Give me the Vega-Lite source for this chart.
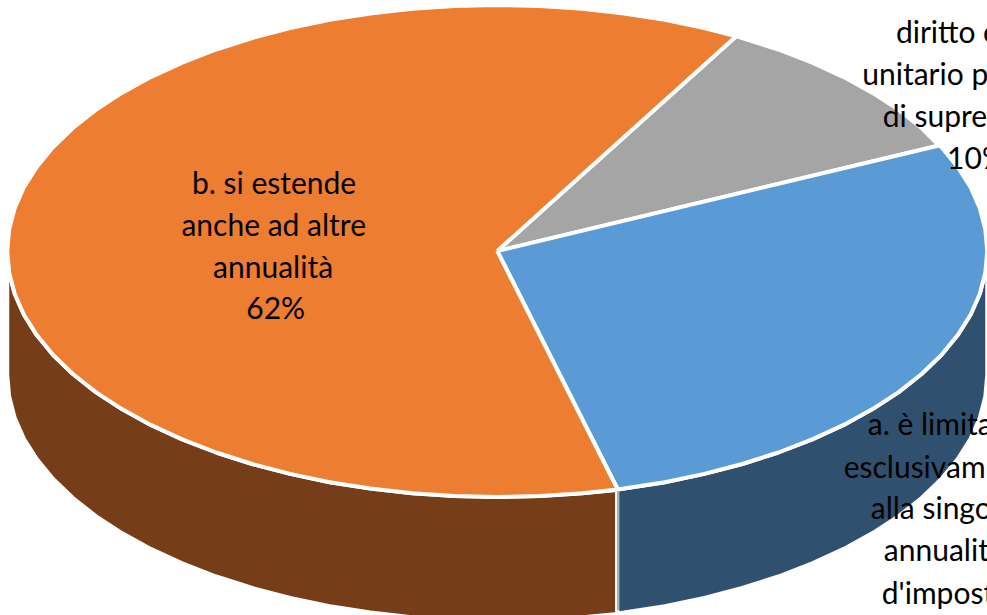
{"$schema":"https://vega.github.io/schema/vega-lite/v6.json","width":987,"height":615,"padding":0,"autosize":{"type":"none"},"background":"white","config":{"view":{"stroke":null}},
"datasets":{"shapes":[
{"part":"1 side b","i":0,"x":616.5,"y":489},{"part":"1 side b","i":1,"x":581.7,"y":492.3},{"part":"1 side b","i":2,"x":539.6,"y":495.1},{"part":"1 side b","i":3,"x":497,"y":496},{"part":"1 side b","i":4,"x":454.4,"y":495.1},{"part":"1 side b","i":5,"x":412.3,"y":492.3},{"part":"1 side b","i":6,"x":370.7,"y":487.6},{"part":"1 side b","i":7,"x":330.1,"y":481.2},{"part":"1 side b","i":8,"x":290.8,"y":472.9},{"part":"1 side b","i":9,"x":253,"y":463},{"part":"1 side b","i":10,"x":217.1,"y":451.5},{"part":"1 side b","i":11,"x":183.3,"y":438.4},{"part":"1 side b","i":12,"x":151.9,"y":423.9},{"part":"1 side b","i":13,"x":123.2,"y":408.1},{"part":"1 side b","i":14,"x":97.2,"y":391.1},{"part":"1 side b","i":15,"x":74.4,"y":373},{"part":"1 side b","i":16,"x":54.7,"y":354},{"part":"1 side b","i":17,"x":38.4,"y":334.1},{"part":"1 side b","i":18,"x":25.6,"y":313.7},{"part":"1 side b","i":19,"x":16.4,"y":292.7},{"part":"1 side b","i":20,"x":10.9,"y":271.5},{"part":"1 side b","i":21,"x":9,"y":250},{"part":"1 side b","i":22,"x":9,"y":374},{"part":"1 side b","i":23,"x":10.9,"y":395.5},{"part":"1 side b","i":24,"x":16.4,"y":416.7},{"part":"1 side b","i":25,"x":25.6,"y":437.7},{"part":"1 side b","i":26,"x":38.4,"y":458.1},{"part":"1 side b","i":27,"x":54.7,"y":478},{"part":"1 side b","i":28,"x":74.4,"y":497},{"part":"1 side b","i":29,"x":97.2,"y":515.1},{"part":"1 side b","i":30,"x":123.2,"y":532.1},{"part":"1 side b","i":31,"x":151.9,"y":547.9},{"part":"1 side b","i":32,"x":183.3,"y":562.4},{"part":"1 side b","i":33,"x":217.1,"y":575.5},{"part":"1 side b","i":34,"x":253,"y":587},{"part":"1 side b","i":35,"x":290.8,"y":596.9},{"part":"1 side b","i":36,"x":330.1,"y":605.2},{"part":"1 side b","i":37,"x":370.7,"y":611.6},{"part":"1 side b","i":38,"x":412.3,"y":616.3},{"part":"1 side b","i":39,"x":454.4,"y":619.1},{"part":"1 side b","i":40,"x":497,"y":620},{"part":"1 side b","i":41,"x":539.6,"y":619.1},{"part":"1 side b","i":42,"x":581.7,"y":616.3},{"part":"1 side b","i":43,"x":616.5,"y":613},{"part":"1 side b","i":44,"x":616.5,"y":489},
{"part":"2 side a","i":0,"x":616.5,"y":488.5},{"part":"2 side a","i":1,"x":623.3,"y":487.6},{"part":"2 side a","i":2,"x":663.9,"y":481.2},{"part":"2 side a","i":3,"x":703.2,"y":472.9},{"part":"2 side a","i":4,"x":741,"y":463},{"part":"2 side a","i":5,"x":776.9,"y":451.5},{"part":"2 side a","i":6,"x":810.7,"y":438.4},{"part":"2 side a","i":7,"x":842.1,"y":423.9},{"part":"2 side a","i":8,"x":870.8,"y":408.1},{"part":"2 side a","i":9,"x":896.8,"y":391.1},{"part":"2 side a","i":10,"x":919.6,"y":373},{"part":"2 side a","i":11,"x":939.3,"y":354},{"part":"2 side a","i":12,"x":955.6,"y":334.1},{"part":"2 side a","i":13,"x":968.4,"y":313.7},{"part":"2 side a","i":14,"x":977.6,"y":292.7},{"part":"2 side a","i":15,"x":983.1,"y":271.5},{"part":"2 side a","i":16,"x":985,"y":250},{"part":"2 side a","i":17,"x":985,"y":374},{"part":"2 side a","i":18,"x":983.1,"y":395.5},{"part":"2 side a","i":19,"x":977.6,"y":416.7},{"part":"2 side a","i":20,"x":968.4,"y":437.7},{"part":"2 side a","i":21,"x":955.6,"y":458.1},{"part":"2 side a","i":22,"x":939.3,"y":478},{"part":"2 side a","i":23,"x":919.6,"y":497},{"part":"2 side a","i":24,"x":896.8,"y":515.1},{"part":"2 side a","i":25,"x":870.8,"y":532.1},{"part":"2 side a","i":26,"x":842.1,"y":547.9},{"part":"2 side a","i":27,"x":810.7,"y":562.4},{"part":"2 side a","i":28,"x":776.9,"y":575.5},{"part":"2 side a","i":29,"x":741,"y":587},{"part":"2 side a","i":30,"x":703.2,"y":596.9},{"part":"2 side a","i":31,"x":663.9,"y":605.2},{"part":"2 side a","i":32,"x":623.3,"y":611.6},{"part":"2 side a","i":33,"x":616.5,"y":612.5},{"part":"2 side a","i":34,"x":616.5,"y":488.5},
{"part":"3 top c","i":0,"x":497,"y":250},{"part":"3 top c","i":1,"x":937,"y":144.5},{"part":"3 top c","i":2,"x":919.6,"y":127},{"part":"3 top c","i":3,"x":896.8,"y":108.9},{"part":"3 top c","i":4,"x":870.8,"y":91.9},{"part":"3 top c","i":5,"x":842.1,"y":76.1},{"part":"3 top c","i":6,"x":810.7,"y":61.6},{"part":"3 top c","i":7,"x":776.9,"y":48.5},{"part":"3 top c","i":8,"x":741,"y":37},{"part":"3 top c","i":9,"x":735,"y":35.2},{"part":"3 top c","i":10,"x":497,"y":250},
{"part":"4 top a","i":0,"x":497,"y":250},{"part":"4 top a","i":1,"x":937,"y":144.5},{"part":"4 top a","i":2,"x":939.3,"y":146},{"part":"4 top a","i":3,"x":955.6,"y":165.9},{"part":"4 top a","i":4,"x":968.4,"y":186.3},{"part":"4 top a","i":5,"x":977.6,"y":207.3},{"part":"4 top a","i":6,"x":983.1,"y":228.5},{"part":"4 top a","i":7,"x":985,"y":250},{"part":"4 top a","i":8,"x":983.1,"y":271.5},{"part":"4 top a","i":9,"x":977.6,"y":292.7},{"part":"4 top a","i":10,"x":968.4,"y":313.7},{"part":"4 top a","i":11,"x":955.6,"y":334.1},{"part":"4 top a","i":12,"x":939.3,"y":354},{"part":"4 top a","i":13,"x":919.6,"y":373},{"part":"4 top a","i":14,"x":896.8,"y":391.1},{"part":"4 top a","i":15,"x":870.8,"y":408.1},{"part":"4 top a","i":16,"x":842.1,"y":423.9},{"part":"4 top a","i":17,"x":810.7,"y":438.4},{"part":"4 top a","i":18,"x":776.9,"y":451.5},{"part":"4 top a","i":19,"x":741,"y":463},{"part":"4 top a","i":20,"x":703.2,"y":472.9},{"part":"4 top a","i":21,"x":663.9,"y":481.2},{"part":"4 top a","i":22,"x":623.3,"y":487.6},{"part":"4 top a","i":23,"x":617,"y":488.5},{"part":"4 top a","i":24,"x":497,"y":250},
{"part":"5 top b","i":0,"x":497,"y":250},{"part":"5 top b","i":1,"x":617,"y":488.5},{"part":"5 top b","i":2,"x":581.7,"y":492.3},{"part":"5 top b","i":3,"x":539.6,"y":495.1},{"part":"5 top b","i":4,"x":497,"y":496},{"part":"5 top b","i":5,"x":454.4,"y":495.1},{"part":"5 top b","i":6,"x":412.3,"y":492.3},{"part":"5 top b","i":7,"x":370.7,"y":487.6},{"part":"5 top b","i":8,"x":330.1,"y":481.2},{"part":"5 top b","i":9,"x":290.8,"y":472.9},{"part":"5 top b","i":10,"x":253,"y":463},{"part":"5 top b","i":11,"x":217.1,"y":451.5},{"part":"5 top b","i":12,"x":183.3,"y":438.4},{"part":"5 top b","i":13,"x":151.9,"y":423.9},{"part":"5 top b","i":14,"x":123.2,"y":408.1},{"part":"5 top b","i":15,"x":97.2,"y":391.1},{"part":"5 top b","i":16,"x":74.4,"y":373},{"part":"5 top b","i":17,"x":54.7,"y":354},{"part":"5 top b","i":18,"x":38.4,"y":334.1},{"part":"5 top b","i":19,"x":25.6,"y":313.7},{"part":"5 top b","i":20,"x":16.4,"y":292.7},{"part":"5 top b","i":21,"x":10.9,"y":271.5},{"part":"5 top b","i":22,"x":9,"y":250},{"part":"5 top b","i":23,"x":10.9,"y":228.5},{"part":"5 top b","i":24,"x":16.4,"y":207.3},{"part":"5 top b","i":25,"x":25.6,"y":186.3},{"part":"5 top b","i":26,"x":38.4,"y":165.9},{"part":"5 top b","i":27,"x":54.7,"y":146},{"part":"5 top b","i":28,"x":74.4,"y":127},{"part":"5 top b","i":29,"x":97.2,"y":108.9},{"part":"5 top b","i":30,"x":123.2,"y":91.9},{"part":"5 top b","i":31,"x":151.9,"y":76.1},{"part":"5 top b","i":32,"x":183.3,"y":61.6},{"part":"5 top b","i":33,"x":217.1,"y":48.5},{"part":"5 top b","i":34,"x":253,"y":37},{"part":"5 top b","i":35,"x":290.8,"y":27.1},{"part":"5 top b","i":36,"x":330.1,"y":18.8},{"part":"5 top b","i":37,"x":370.7,"y":12.4},{"part":"5 top b","i":38,"x":412.3,"y":7.7},{"part":"5 top b","i":39,"x":454.4,"y":4.9},{"part":"5 top b","i":40,"x":497,"y":4},{"part":"5 top b","i":41,"x":539.6,"y":4.9},{"part":"5 top b","i":42,"x":581.7,"y":7.7},{"part":"5 top b","i":43,"x":623.3,"y":12.4},{"part":"5 top b","i":44,"x":663.9,"y":18.8},{"part":"5 top b","i":45,"x":703.2,"y":27.1},{"part":"5 top b","i":46,"x":735,"y":35.2},{"part":"5 top b","i":47,"x":497,"y":250}
],
"labels":[
{"t":"b. si estende","x":193,"y":192.5},{"t":"anche ad altre","x":182.5,"y":234.5},{"t":"annualità","x":214,"y":276.5},{"t":"62%","x":247,"y":318},
{"t":"diritto e","x":894,"y":42},{"t":"unitario p","x":860.5,"y":83.5},{"t":"di supre","x":881,"y":125.5},{"t":"10%","x":945,"y":168},
{"t":"a. è limita","x":866,"y":434},{"t":"esclusivam","x":842,"y":477},{"t":"alla singo","x":869,"y":518},{"t":"annualit","x":882,"y":560},{"t":"d'impost","x":880,"y":603}
],
"seam":[{"x":617.3,"y":490,"y2":609}]},
"layer":[
{"data":{"name":"shapes"},"mark":{"type":"line","stroke":"white","strokeWidth":4,"strokeJoin":"round","clip":true},
"encoding":{"x":{"field":"x","type":"quantitative","scale":{"domain":[1.78,984.75],"nice":false,"zero":false},"axis":null},"y":{"field":"y","type":"quantitative","scale":{"domain":[614,-1],"nice":false,"zero":false},"axis":null},"order":{"field":"i","type":"quantitative"},"detail":{"field":"part"},"fill":{"field":"part","type":"nominal","legend":null,"scale":{"domain":["1 side b","2 side a","3 top c","4 top a","5 top b"],"range":["#763e18","#30506f","#a5a5a5","#5b9bd5","#ed7d31"]}}}},
{"data":{"name":"seam"},"mark":{"type":"rule","stroke":"#aaaeb3","strokeWidth":2},"encoding":{"x":{"field":"x","type":"quantitative"},"y":{"field":"y","type":"quantitative"},"y2":{"field":"y2"}}},
{"data":{"name":"labels"},"mark":{"type":"text","font":"Lato","fontSize":30,"align":"left","baseline":"alphabetic","fill":"#000000","clip":true},"encoding":{"x":{"field":"x","type":"quantitative"},"y":{"field":"y","type":"quantitative"},"text":{"field":"t"}}}
]}
